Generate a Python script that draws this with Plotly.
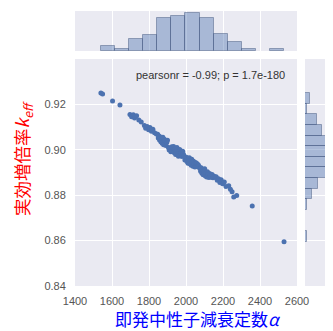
import plotly.graph_objects as go

# prompt neutron decay constant alpha (x) and effective multiplication factor k_eff (y)
x_alpha = [
    1540, 1549, 1603, 1643,
    1697, 1706, 1715, 1722, 1733, 1745, 1758,
    1775, 1782, 1790, 1798, 1805, 1813, 1821, 1830, 1840,
    1847, 1850, 1853, 1857, 1860, 1864, 1868, 1871, 1875, 1879, 1883, 1887, 1891, 1896, 1900, 1905, 1909, 1914, 1918,
    1923, 1926, 1930, 1933, 1937, 1940, 1944, 1948, 1951, 1955, 1959, 1962, 1966, 1970, 1974, 1978, 1982, 1986, 1990, 1994,
    1999, 2002, 2005, 2008, 2011, 2015, 2018, 2021, 2025, 2028, 2031, 2035, 2038, 2041, 2045, 2048, 2052, 2055, 2059, 2063, 2066, 2070,
    2075, 2079, 2082, 2086, 2090, 2093, 2097, 2101, 2105, 2108, 2112, 2116, 2120, 2124, 2128, 2132, 2137, 2141, 2146,
    2152, 2157, 2163, 2169, 2176, 2183, 2190, 2198, 2207, 2216,
    2231, 2240, 2249, 2258, 2274,
    2358, 2530,
]
y_keff = [
    0.9250, 0.9246, 0.9215, 0.9197,
    0.9155, 0.9146, 0.9154, 0.9140, 0.9150, 0.9131, 0.9122,
    0.9107, 0.9095, 0.9103, 0.9088, 0.9098, 0.9082, 0.9091, 0.9075, 0.9070,
    0.9068, 0.9052, 0.9061, 0.9043, 0.9058, 0.9035, 0.9050, 0.9029, 0.9055, 0.9022, 0.9046, 0.9039, 0.9019, 0.9032, 0.9042, 0.9010, 0.8999, 0.9008, 0.8991,
    0.9013, 0.8995, 0.9008, 0.9015, 0.8987, 0.9003, 0.8979, 0.8997, 0.9010, 0.8983, 0.8972, 0.8992, 0.9001, 0.8976, 0.8986, 0.8970, 0.8994, 0.8980, 0.8973, 0.8955,
    0.8960, 0.8967, 0.8949, 0.8962, 0.8941, 0.8956, 0.8965, 0.8938, 0.8952, 0.8932, 0.8958, 0.8945, 0.8927, 0.8950, 0.8936, 0.8924, 0.8944, 0.8930, 0.8940, 0.8925, 0.8934, 0.8928,
    0.8918, 0.8905, 0.8921, 0.8897, 0.8912, 0.8890, 0.8908, 0.8916, 0.8885, 0.8900, 0.8880, 0.8903, 0.8893, 0.8878, 0.8896, 0.8886, 0.8879, 0.8891, 0.8877,
    0.8884, 0.8879, 0.8881, 0.8866, 0.8873, 0.8856, 0.8868, 0.8850, 0.8858, 0.8838,
    0.8842, 0.8826, 0.8815, 0.8792, 0.8799,
    0.8752, 0.8595,
]

x_ticks = [1400, 1600, 1800, 2000, 2200, 2400, 2600]
y_ticks = [0.84, 0.86, 0.88, 0.90, 0.92]
x_title = "即発中性子減衰定数<i>α</i>"
y_title = "実効増倍率<i>k</i><sub><i>eff</i></sub>"
stat_text = "pearsonr = -0.99; p = 1.7e-180"

# the page body has an 8px margin, so the figure sits 8px in from the window corner
OFF = 8
W, H = 333 - OFF, 331 - OFF
def px_x(p):
    return (p - OFF) / W
def px_y(p):
    return 1 - (p - OFF) / H

BG = "#EAEAF2"
BLUE = "#4C72B0"
BAR = "rgba(76,114,176,0.42)"
EDGE = "rgba(60,80,120,0.45)"
TICKFONT = dict(family="Liberation Sans, Arial, sans-serif", size=11, color="#555555")

fig = go.Figure()
fig.add_trace(go.Scatter(
    x=x_alpha, y=y_keff, mode="markers",
    marker=dict(color=BLUE, size=5, line=dict(width=0)),
    xaxis="x", yaxis="y", showlegend=False, hoverinfo="skip",
))
fig.add_trace(go.Histogram(
    x=x_alpha, xbins=dict(start=1540, end=2531, size=76.2),
    marker=dict(color=BAR, line=dict(color=EDGE, width=1)),
    xaxis="x2", yaxis="y2", showlegend=False,
))
fig.add_trace(go.Histogram(
    y=y_keff, ybins=dict(start=0.8595, end=0.9251, size=0.00468),
    marker=dict(color=BAR, line=dict(color=EDGE, width=1)),
    xaxis="x3", yaxis="y3", showlegend=False,
))

main_x_dom = [px_x(75), px_x(297)]
main_y_dom = [px_y(286), px_y(59)]
top_y_dom = [px_y(51), px_y(11)]
right_x_dom = [px_x(305), 1.0]

grid = dict(showgrid=True, gridcolor="white", gridwidth=1, zeroline=False, showline=False,
            automargin=False)
nogrid = dict(showgrid=False, zeroline=False, showline=False, automargin=False,
              showticklabels=False, ticks="")

fig.update_layout(
    width=W, height=H,
    margin=dict(l=0, r=0, t=0, b=0, autoexpand=False),
    paper_bgcolor="white", plot_bgcolor=BG,
    bargap=0,
    showlegend=False,
    xaxis=dict(domain=main_x_dom, anchor="y", range=[1400, 2600], tickvals=x_ticks,
               ticks="outside", ticklen=5, tickcolor="rgba(0,0,0,0)", tickfont=TICKFONT, **grid),
    yaxis=dict(domain=main_y_dom, anchor="x", range=[0.84, 0.94], tickvals=y_ticks, tickformat=".2f",
               ticks="outside", ticklen=6, tickcolor="rgba(0,0,0,0)", tickfont=TICKFONT, **grid),
    xaxis2=dict(domain=main_x_dom, anchor="y2", range=[1400, 2600], tickvals=x_ticks,
                showticklabels=False, ticks="", **grid),
    yaxis2=dict(domain=top_y_dom, anchor="x2", range=[0, 23.1], **nogrid),
    xaxis3=dict(domain=right_x_dom, anchor="y3", range=[0, 16.9], **nogrid),
    yaxis3=dict(domain=main_y_dom, anchor="x3", range=[0.84, 0.94], tickvals=y_ticks,
                showticklabels=False, ticks="", **grid),
    annotations=[
        dict(text=stat_text, xref="paper", yref="paper", x=px_x(287), y=px_y(75),
             xanchor="right", yanchor="middle", showarrow=False,
             font=dict(family="Liberation Sans, Arial, sans-serif", size=11, color="#333333")),
        dict(text=x_title, xref="paper", yref="paper", x=px_x(198), y=px_y(318.5),
             xanchor="center", yanchor="middle", showarrow=False,
             font=dict(family="Noto Sans CJK JP, sans-serif", size=17, color="#0000ff")),
        dict(text=y_title, xref="paper", yref="paper", x=px_x(23), y=px_y(159),
             xanchor="center", yanchor="middle", showarrow=False, textangle=-90,
             font=dict(family="Noto Sans CJK JP, sans-serif", size=17.5, color="#ff0000")),
    ],
)

fig.write_html("out.html")
